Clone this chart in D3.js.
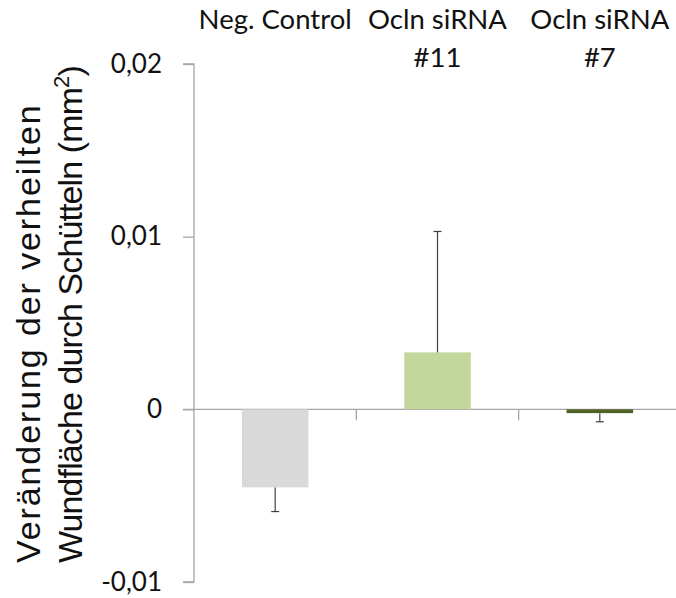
<!DOCTYPE html>
<html>
<head>
<meta charset="utf-8">
<script src="https://cdn.jsdelivr.net/npm/d3@7"></script>
<style>
  html, body { margin: 0; padding: 0; background: #fff; }
  svg { display: block; }
</style>
</head>
<body>
<svg id="chart" width="676" height="598"></svg>
<script>
// Change in healed wound area after shaking, per siRNA treatment
const categories = ["Neg. Control", "Ocln siRNA #11", "Ocln siRNA #7"];
const categoryLines = [["Neg. Control"], ["Ocln siRNA", "#11"], ["Ocln siRNA", "#7"]];
const means = [-0.00452, 0.0033, -0.00022];
const errors = [0.0014, 0.0070, 0.0005];
const barColors = ["#d9d9d9", "#c3d69b", "#4f6228"];
const yTicks = [-0.01, 0, 0.01, 0.02];
const yTickLabels = ["-0,01", "0", "0,01", "0,02"];

const svg = d3.select("#chart");
const labelFont = "Lato, 'Open Sans', sans-serif";
const titleFont = "'Liberation Sans', Arial, sans-serif";

const y = d3.scaleLinear().domain([-0.01, 0.02]).range([582, 64]);
const x = d3.scaleBand().domain(categories).range([194, 681]).padding(0);
const barW = x.bandwidth() * 0.41;

// value axis
const yAxis = d3.axisLeft(y)
  .tickValues(yTicks)
  .tickFormat((d, i) => yTickLabels[i])
  .tickSize(11)
  .tickPadding(21);
const gy = svg.append("g").attr("transform", "translate(194,0)").call(yAxis);
gy.select(".domain").attr("stroke", "#a6a6a6").attr("stroke-width", 1.3)
  .attr("d", `M-11,${y(0.02)}H0V${y(-0.01)}H-11`);
gy.selectAll(".tick line").attr("stroke", "#a6a6a6").attr("stroke-width", 1.3);
gy.selectAll(".tick text")
  .attr("fill", "#111")
  .style("font-family", labelFont)
  .style("font-size", "26px");

// zero line with category separators
svg.append("line")
  .attr("x1", 183).attr("x2", 676)
  .attr("y1", y(0)).attr("y2", y(0))
  .attr("stroke", "#a6a6a6").attr("stroke-width", 1.3);
svg.selectAll("line.sep")
  .data(categories.slice(1))
  .join("line")
  .attr("class", "sep")
  .attr("x1", d => x(d)).attr("x2", d => x(d))
  .attr("y1", y(0)).attr("y2", y(0) + 11)
  .attr("stroke", "#a6a6a6").attr("stroke-width", 1.3);

// bars
svg.selectAll("rect.bar")
  .data(categories)
  .join("rect")
  .attr("class", "bar")
  .attr("x", d => x(d) + (x.bandwidth() - barW) / 2)
  .attr("width", barW)
  .attr("y", (d, i) => Math.min(y(means[i]), y(0)))
  .attr("height", (d, i) => Math.abs(y(means[i]) - y(0)))
  .attr("fill", (d, i) => barColors[i]);

// error bars, drawn away from zero
const cx = d => x(d) + x.bandwidth() / 2;
const tip = i => means[i] + Math.sign(means[i]) * errors[i];
const eg = svg.append("g").attr("stroke", "#404040").attr("stroke-width", 1.2);
eg.selectAll("line.stem")
  .data(categories)
  .join("line")
  .attr("x1", cx).attr("x2", cx)
  .attr("y1", (d, i) => y(means[i]))
  .attr("y2", (d, i) => y(tip(i)));
eg.selectAll("line.cap")
  .data(categories)
  .join("line")
  .attr("x1", d => cx(d) - 4).attr("x2", d => cx(d) + 4)
  .attr("y1", (d, i) => y(tip(i)))
  .attr("y2", (d, i) => y(tip(i)));

// category labels on top
const lab = svg.append("g")
  .style("font-family", labelFont)
  .style("font-size", "27.5px")
  .attr("fill", "#111")
  .attr("text-anchor", "middle");
categories.forEach((c, i) => {
  categoryLines[i].forEach((t, j) => {
    lab.append("text")
      .attr("x", cx(c))
      .attr("y", 29 + j * 38)
      .text(t);
  });
});

// value axis title, both lines starting at the same height
const title = svg.append("text")
  .attr("transform", "translate(40,563) rotate(-90)")
  .attr("text-anchor", "start")
  .style("font-family", titleFont)
  .style("font-size", "34px")
  .attr("fill", "#111");
title.append("tspan").attr("x", 0).attr("y", 0)
  .style("letter-spacing", "1.9px")
  .text("Veränderung der verheilten");
const line2 = title.append("tspan").attr("x", 0).attr("y", 42)
  .style("letter-spacing", "-0.9px");
line2.append("tspan").text("Wundfläche durch Schütteln (mm");
line2.append("tspan").attr("dy", -13).style("font-size", "22px").text("2");
line2.append("tspan").attr("dy", 13).text(")");
</script>
</body>
</html>
